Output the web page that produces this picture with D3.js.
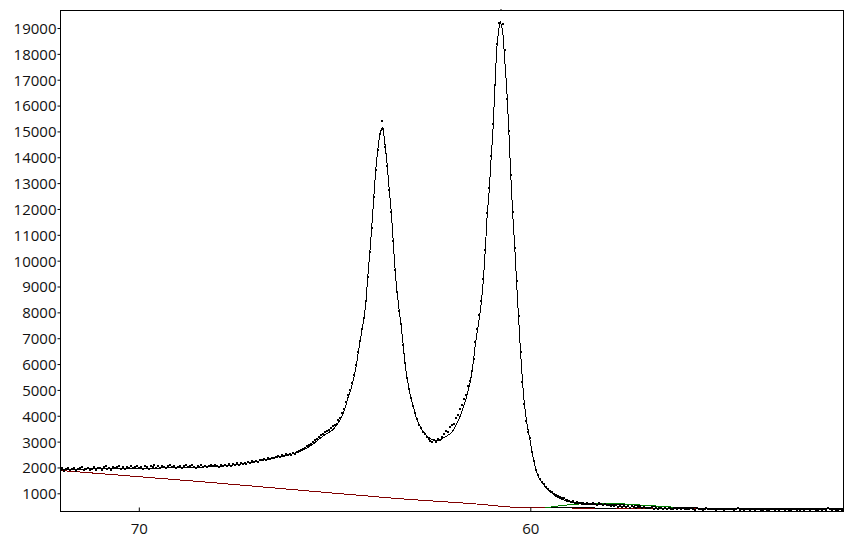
<!DOCTYPE html>
<html><head><meta charset="utf-8">
<script src="https://cdn.jsdelivr.net/npm/d3@7"></script>
<style>html,body{margin:0;padding:0;background:#fff;} svg{display:block;font-family:"Open Sans",sans-serif;}</style>
</head><body>
<svg id="chart" width="853" height="540"></svg>
<script>
// ---- data ----
const xTicks = [70, 60];
const yTicks = [1000,2000,3000,4000,5000,6000,7000,8000,9000,10000,11000,12000,13000,14000,15000,16000,17000,18000,19000];

// measured points: first position and spacing of the scan
const scanStart = 72, scanStep = 0.05;
const counts = [
1900,1967,1870,1930,1997,1893,1945,1975,1855,1925,1960,2012,1885,1937,1990,1907,1952,2020,1915,1975,
1980,1920,2010,2040,1950,1990,1905,2025,1965,2005,2050,1955,2015,1935,2030,1980,2065,1960,2010,2045,
1985,2030,1955,2065,2000,1940,2045,2015,2080,1975,2040,1990,2075,2020,1960,2055,2095,2005,2040,1985,
2010,2060,1975,2040,2080,2000,2050,2095,2015,1990,2065,2035,2105,2020,2075,2005,2055,2110,2040,2085,
2070,2030,2100,2050,2110,2075,2125,2060,2140,2095,2155,2110,2175,2135,2190,2150,2210,2170,2245,2205,
2260,2215,2295,2270,2325,2290,2355,2325,2385,2350,2410,2450,2420,2475,2440,2510,2480,2540,2500,2570,
2540,2590,2630,2660,2720,2750,2820,2850,2920,2980,3060,3090,3180,3240,3290,3370,3400,3460,3530,3590,
3650,3700,3820,3900,4100,4260,4520,4800,5000,5260,5560,5950,6450,6900,7350,7800,8450,9350,10350,11250,
12450,13500,14300,14900,15420,15100,14400,13650,12750,11900,10750,9650,8800,8050,7550,6750,6050,5480,5030,4700,
4380,4100,3880,3650,3540,3380,3300,3180,3120,3020,2980,3060,2990,3100,3060,3180,3300,3420,3390,3550,
3650,3700,3900,4020,4250,4400,4650,4800,5150,5350,5750,6200,6850,7350,7900,8450,9300,10400,11850,12800,
14050,15300,16800,18400,19180,19680,19150,18150,16250,15000,13300,11900,10500,9200,7850,6450,5300,4450,3800,3380,
3150,2600,2250,1900,1700,1560,1420,1350,1260,1180,1100,1060,980,950,900,860,800,820,760,740,
690,650,700,640,660,610,640,620,580,640,600,570,620,590,560,610,580,540,590,550,
560,520,545,500,530,480,510,470,520,460,490,450,500,470,440,480,455,430,470,445,
440,420,455,410,430,395,445,415,400,435,390,425,405,380,430,400,415,385,420,395,
410,380,425,395,370,415,390,405,365,400,420,385,375,410,390,360,405,380,395,370,
400,375,410,385,360,395,420,370,385,355,400,380,365,410,390,350,385,400,370,360,
395,370,350,400,380,365,410,355,385,375,345,395,370,360,405,380,350,390,365,375,
360,395,375,345,385,400,355,370,390,350,380,365,440,375,355,390,370,360,385,365,
380
];

// fitted envelope
const fitX = [72.00,71.00,70.00,69.00,68.44,68.00,67.50,67.16,66.80,66.39,66.00,65.90,65.80,65.70,65.60,65.50,65.45,65.35,65.25,65.15,65.05,64.95,64.90,64.85,64.80,64.75,64.70,64.65,64.60,64.55,64.50,64.45,64.40,64.35,64.30,64.25,64.20,64.15,64.10,64.05,64.00,63.95,63.90,63.85,63.80,63.78,63.75,63.70,63.65,63.60,63.55,63.50,63.45,63.40,63.35,63.30,63.25,63.20,63.15,63.10,63.00,62.95,62.90,62.85,62.80,62.75,62.70,62.65,62.60,62.55,62.50,62.45,62.40,62.35,62.30,62.25,62.20,62.15,62.10,62.05,62.00,61.95,61.90,61.85,61.80,61.75,61.70,61.65,61.60,61.55,61.50,61.45,61.40,61.35,61.30,61.25,61.20,61.15,61.10,61.05,61.00,60.95,60.90,60.85,60.80,60.77,60.75,60.70,60.65,60.60,60.55,60.50,60.45,60.40,60.35,60.30,60.25,60.20,60.15,60.10,60.05,60.00,59.95,59.90,59.85,59.80,59.75,59.70,59.65,59.60,59.55,59.50,59.45,59.40,59.35,59.30,59.20,59.10,59.00,58.80,58.56,58.22,57.71,57.20,56.69,56.35,55.50,54.00,52.00];
const fitY = [1925,1950,1965,1990,2011,2040,2110,2190,2290,2420,2560,2610,2680,2760,2850,2960,3030,3150,3260,3350,3450,3640,3740,3860,4020,4220,4460,4740,4950,5200,5520,5900,6400,6860,7300,7780,8400,9400,10300,11300,12400,13450,14250,14800,15100,15163,14950,14350,13616,12700,11850,10700,9600,8750,8100,7500,6800,6023,5500,5050,4420,4130,3850,3700,3560,3420,3320,3240,3170,3110,3070,3050,3045,3055,3080,3115,3160,3200,3250,3300,3380,3480,3640,3790,3950,4150,4370,4620,4900,5200,5600,6139,6800,7300,7800,8400,9233,10394,11800,12700,14000,15150,16900,18300,19000,19263,19150,18776,17700,16600,15100,13350,11800,10600,9150,7814,6500,5350,4450,3850,3400,3000,2560,2180,1880,1660,1520,1410,1310,1220,1140,1070,1010,950,890,840,770,715,665,610,560,585,575,535,490,460,425,410,403];

// background
const bgX = [72.00,68.44,65.88,63.33,61.28,60.44,59.75,59.00,57.50,52.00];
const bgY = [1884,1455,1120,790,575,465,445,432,415,403];

// small component (green)
const compX = [59.62,59.29,58.73,58.22,57.71,57.20,56.69,56.35];
const compY = [434,511,588,615,595,549,499,465];

// tail of a component (thin black)
const tailX = [59.62,59.00,58.20,57.80];
const tailY = [434,436,430,420];

// ---- drawing ----
const svg = d3.select("#chart");
const L = 60.5, R = 843.5, T = 10.5, B = 511.5;
const x = d3.scaleLinear().domain([72, 52]).range([L, R]);
const y = d3.scaleLinear().domain([277, 19697]).range([512, 10]);

svg.append("defs").append("clipPath").attr("id","clip")
  .append("rect").attr("x",L).attr("y",T-1).attr("width",R-L).attr("height",B-T+1);

const g = svg.append("g").attr("clip-path","url(#clip)");
const toPts = (xs, ys) => xs.map((d,i)=>({x:d, y:ys[i]}));
const line = d3.line().x(d=>x(d.x)).y(d=>y(d.y)).curve(d3.curveMonotoneX);

function drawLine(xs, ys, color){
  g.append("path").datum(toPts(xs,ys)).attr("d",line)
    .attr("fill","none").attr("stroke",color).attr("stroke-width",1)
    .attr("shape-rendering","crispEdges");
}
drawLine(bgX, bgY, "#800000");
drawLine(tailX, tailY, "#000");
drawLine(fitX, fitY, "#000");
drawLine(compX, compY, "#008000");

const scan = counts.map((c,i)=>({x: +(scanStart - i*scanStep).toFixed(2), y: c}));
g.selectAll("rect.pt").data(scan).enter().append("rect").attr("class","pt")
  .attr("x", d=>Math.round(x(d.x))-1).attr("y", d=>Math.round(y(d.y))-1)
  .attr("width",2).attr("height",2).attr("fill","#000")
  .attr("shape-rendering","crispEdges");

// frame
svg.append("rect").attr("x",L).attr("y",T).attr("width",R-L).attr("height",B-T)
  .attr("fill","none").attr("stroke","#000").attr("stroke-width",1);

// axes
const ya = svg.append("g").attr("transform",`translate(${L},0)`)
  .call(d3.axisLeft(y).tickValues(yTicks).tickSize(3).tickPadding(1).tickFormat(d3.format("d")));
ya.select(".domain").remove();
ya.selectAll("text").attr("font-size","15px").attr("fill","#111").attr("dy","0.36em").attr("font-family","Open Sans");

const xa = svg.append("g").attr("transform",`translate(0,${B})`)
  .call(d3.axisBottom(x).tickValues(xTicks).tickSizeInner(-4).tickSizeOuter(0).tickPadding(12).tickFormat(d3.format("d")));
xa.select(".domain").remove();
xa.selectAll("text").attr("font-size","15px").attr("fill","#111").attr("font-family","Open Sans");
</script>
</body></html>
